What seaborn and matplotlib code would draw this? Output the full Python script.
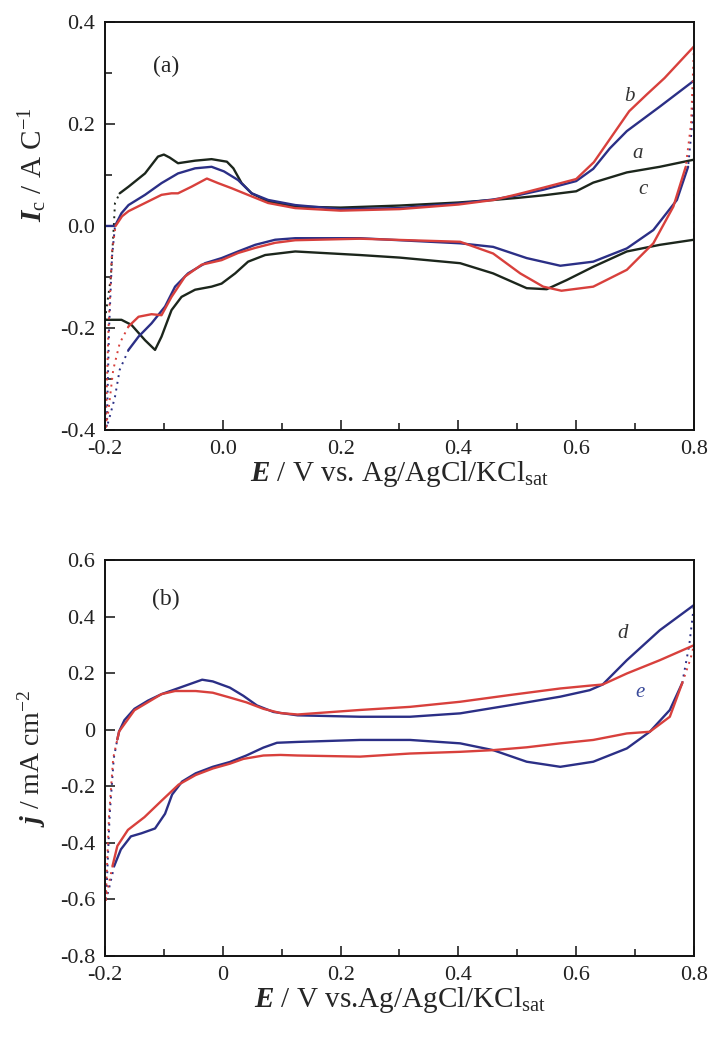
import numpy as np
import pandas as pd
import matplotlib
matplotlib.use("Agg")
import matplotlib.pyplot as plt
from matplotlib.ticker import MultipleLocator, FixedLocator, FixedFormatter
import seaborn as sns

# ---------------- panel (a): specific current, A C^-1 ----------------
# curve a (blue)
a_an_E = [-0.2, -0.183, -0.172, -0.160, -0.132, -0.104, -0.076, -0.047, -0.019, 0.002, 0.026, 0.049, 0.077, 0.123,
          0.2, 0.3, 0.4, 0.46, 0.5, 0.544, 0.6, 0.629, 0.657, 0.686, 0.742, 0.8]
a_an_I = [0.0, 0.0, 0.025, 0.041, 0.061, 0.084, 0.103, 0.113, 0.116, 0.107, 0.090, 0.064, 0.051, 0.041,
          0.033, 0.035, 0.044, 0.052, 0.060, 0.071, 0.088, 0.112, 0.152, 0.186, 0.234, 0.285]
a_ca_E = [-0.160, -0.143, -0.121, -0.098, -0.081, -0.059, -0.030, -0.002, 0.026, 0.055, 0.089, 0.123,
          0.233, 0.403, 0.459, 0.516, 0.573, 0.629, 0.686, 0.731, 0.771, 0.790]
a_ca_I = [-0.243, -0.217, -0.191, -0.158, -0.119, -0.093, -0.073, -0.063, -0.050, -0.037, -0.027, -0.024,
          -0.024, -0.034, -0.041, -0.063, -0.078, -0.070, -0.044, -0.008, 0.051, 0.116]
a_left_E = [-0.160, -0.175, -0.183, -0.191, -0.197, -0.193, -0.188, -0.183]
a_left_I = [-0.243, -0.282, -0.335, -0.370, -0.395, -0.200, -0.060, 0.0]
a_right_E = [0.8, 0.797, 0.790]
a_right_I = [0.285, 0.200, 0.116]

# curve b (red)
b_an_E = [-0.182, -0.171, -0.160, -0.132, -0.104, -0.087, -0.076, -0.053, -0.027, -0.008, 0.015, 0.049, 0.077, 0.123,
          0.2, 0.3, 0.4, 0.46, 0.5, 0.544, 0.6, 0.63, 0.66, 0.69, 0.72, 0.75, 0.8]
b_an_I = [0.0, 0.019, 0.029, 0.045, 0.061, 0.064, 0.064, 0.077, 0.093, 0.084, 0.074, 0.058, 0.045, 0.035,
          0.030, 0.033, 0.042, 0.051, 0.062, 0.075, 0.092, 0.125, 0.175, 0.225, 0.258, 0.290, 0.352]
b_ca_E = [-0.160, -0.143, -0.121, -0.104, -0.087, -0.064, -0.036, -0.002, 0.026, 0.055, 0.089, 0.123,
          0.233, 0.403, 0.459, 0.505, 0.544, 0.575, 0.629, 0.686, 0.731, 0.765, 0.786]
b_ca_I = [-0.197, -0.178, -0.173, -0.175, -0.139, -0.099, -0.076, -0.067, -0.053, -0.043, -0.033, -0.028,
          -0.025, -0.031, -0.054, -0.093, -0.119, -0.127, -0.119, -0.086, -0.034, 0.038, 0.116]
b_left_E = [-0.160, -0.175, -0.186, -0.194, -0.199, -0.194, -0.188, -0.182]
b_left_I = [-0.197, -0.230, -0.282, -0.361, -0.400, -0.200, -0.050, 0.0]
b_right_E = [0.8, 0.795, 0.786]
b_right_I = [0.352, 0.200, 0.116]

# curve c (black)
c_an_E = [-0.175, -0.160, -0.132, -0.110, -0.100, -0.090, -0.076, -0.047, -0.019, 0.007, 0.018, 0.032, 0.049, 0.077,
          0.123, 0.2, 0.3, 0.4, 0.46, 0.5, 0.544, 0.6, 0.629, 0.686, 0.742, 0.8]
c_an_I = [0.064, 0.077, 0.103, 0.136, 0.140, 0.134, 0.123, 0.128, 0.131, 0.126, 0.113, 0.084, 0.064, 0.048,
          0.038, 0.036, 0.040, 0.046, 0.051, 0.055, 0.060, 0.068, 0.085, 0.105, 0.116, 0.130]
c_ca_E = [-0.200, -0.186, -0.172, -0.155, -0.132, -0.115, -0.104, -0.087, -0.070, -0.047, -0.019, -0.002, 0.021,
          0.043, 0.072, 0.123, 0.233, 0.3, 0.403, 0.459, 0.516, 0.550, 0.584, 0.629, 0.686, 0.742, 0.8]
c_ca_I = [-0.184, -0.184, -0.184, -0.194, -0.224, -0.243, -0.217, -0.165, -0.139, -0.125, -0.119, -0.113, -0.093,
          -0.070, -0.057, -0.050, -0.057, -0.062, -0.073, -0.093, -0.122, -0.124, -0.106, -0.080, -0.050, -0.037, -0.027]
c_left_E = [-0.200, -0.190, -0.185, -0.183, -0.175]
c_left_I = [-0.184, -0.100, 0.000, 0.045, 0.064]
c_right_E = [0.8, 0.8]
c_right_I = [0.130, -0.027]

# ---------------- panel (b): current density, mA cm^-2 ----------------
# curve d (blue)
d_an_E = [-0.179, -0.176, -0.167, -0.150, -0.127, -0.104, -0.081, -0.058, -0.035, -0.017, 0.012, 0.035, 0.058, 0.086,
          0.127, 0.233, 0.318, 0.403, 0.488, 0.573, 0.623, 0.645, 0.686, 0.742, 0.8]
d_an_j = [-0.034, -0.006, 0.034, 0.074, 0.103, 0.126, 0.143, 0.160, 0.177, 0.171, 0.149, 0.120, 0.086, 0.063,
          0.051, 0.046, 0.046, 0.058, 0.087, 0.117, 0.140, 0.160, 0.246, 0.352, 0.441]
d_ca_E = [-0.184, -0.173, -0.156, -0.138, -0.115, -0.098, -0.086, -0.069, -0.046, -0.017, 0.012, 0.040, 0.069,
          0.092, 0.127, 0.233, 0.318, 0.403, 0.459, 0.516, 0.573, 0.629, 0.686, 0.725, 0.759, 0.780]
d_ca_j = [-0.480, -0.423, -0.377, -0.366, -0.349, -0.297, -0.229, -0.183, -0.154, -0.131, -0.114, -0.091, -0.063,
          -0.046, -0.043, -0.036, -0.036, -0.048, -0.072, -0.113, -0.131, -0.113, -0.066, -0.007, 0.070, 0.165]
d_left_E = [-0.184, -0.193, -0.198, -0.192, -0.185, -0.179]
d_left_j = [-0.480, -0.560, -0.600, -0.300, -0.100, -0.034]
d_right_E = [0.780, 0.792, 0.8]
d_right_j = [0.165, 0.300, 0.441]

# curve e (red)
e_an_E = [-0.179, -0.176, -0.150, -0.104, -0.081, -0.046, -0.017, 0.012, 0.040, 0.069, 0.098, 0.127,
          0.233, 0.318, 0.403, 0.488, 0.573, 0.623, 0.645, 0.686, 0.742, 0.8]
e_an_j = [-0.034, -0.006, 0.069, 0.126, 0.137, 0.137, 0.131, 0.114, 0.097, 0.074, 0.059, 0.054,
          0.070, 0.081, 0.099, 0.123, 0.146, 0.156, 0.160, 0.199, 0.246, 0.299]
e_ca_E = [-0.187, -0.179, -0.161, -0.133, -0.104, -0.075, -0.046, -0.017, 0.012, 0.035, 0.069, 0.098, 0.127,
          0.233, 0.318, 0.403, 0.459, 0.516, 0.573, 0.629, 0.686, 0.725, 0.759, 0.780]
e_ca_j = [-0.480, -0.411, -0.354, -0.309, -0.251, -0.194, -0.160, -0.137, -0.120, -0.103, -0.091, -0.089, -0.091,
          -0.095, -0.084, -0.078, -0.072, -0.062, -0.048, -0.036, -0.013, -0.007, 0.046, 0.165]
e_left_E = [-0.187, -0.195, -0.199, -0.193, -0.186, -0.179]
e_left_j = [-0.480, -0.560, -0.610, -0.300, -0.100, -0.034]
e_right_E = [0.780, 0.794, 0.8]
e_right_j = [0.165, 0.250, 0.299]

# axis ticks
xticks = [-0.2, 0.0, 0.2, 0.4, 0.6, 0.8]
xlabels_a = ["-0.2", "0.0", "0.2", "0.4", "0.6", "0.8"]
xlabels_b = ["-0.2", "0", "0.2", "0.4", "0.6", "0.8"]
yticks_a = [-0.4, -0.2, 0.0, 0.2, 0.4]
ylabels_a = ["-0.4", "-0.2", "0.0", "0.2", "0.4"]
yticks_b = [-0.8, -0.6, -0.4, -0.2, 0.0, 0.2, 0.4, 0.6]
ylabels_b = ["-0.8", "-0.6", "-0.4", "-0.2", "0", "0.2", "0.4", "0.6"]

BLUE = "#2b2f86"
RED = "#d8403c"
BLACK = "#1c261c"

sns.set_theme(style="ticks")
plt.rcParams["font.family"] = ["Liberation Serif", "DejaVu Serif"]
plt.rcParams["mathtext.fontset"] = "custom"
plt.rcParams["mathtext.rm"] = "Liberation Serif"
plt.rcParams["mathtext.it"] = "Liberation Serif:italic"
plt.rcParams["mathtext.bf"] = "Liberation Serif:bold"
plt.rcParams["mathtext.bfit"] = "Liberation Serif:italic:bold"

fig = plt.figure(figsize=(7.17, 10.5), dpi=100)
ax1 = fig.add_axes([0.1464, 0.5905, 0.8215, 0.3886])
ax2 = fig.add_axes([0.1464, 0.0895, 0.8215, 0.3771])

SOLID = dict(linewidth=1.7, estimator=None, sort=False, legend=False)
DOTTED = dict(linewidth=1.4, estimator=None, sort=False, legend=False, linestyle=(0, (1, 2.5)))


def draw(ax, color, an, ca, left, right):
    for (xs, ys) in (an, ca):
        sns.lineplot(x=xs, y=ys, color=color, ax=ax, solid_joinstyle="round", **SOLID)
    for (xs, ys) in (left, right):
        sns.lineplot(x=xs, y=ys, color=color, ax=ax, **DOTTED)


draw(ax1, BLACK, (c_an_E, c_an_I), (c_ca_E, c_ca_I), (c_left_E, c_left_I), (c_right_E, c_right_I))
draw(ax1, BLUE, (a_an_E, a_an_I), (a_ca_E, a_ca_I), (a_left_E, a_left_I), (a_right_E, a_right_I))
draw(ax1, RED, (b_an_E, b_an_I), (b_ca_E, b_ca_I), (b_left_E, b_left_I), (b_right_E, b_right_I))

draw(ax2, BLUE, (d_an_E, d_an_j), (d_ca_E, d_ca_j), (d_left_E, d_left_j), (d_right_E, d_right_j))
draw(ax2, RED, (e_an_E, e_an_j), (e_ca_E, e_ca_j), (e_left_E, e_left_j), (e_right_E, e_right_j))

for ax, yt, yl, xl, ylim in ((ax1, yticks_a, ylabels_a, xlabels_a, (-0.4, 0.4)),
                             (ax2, yticks_b, ylabels_b, xlabels_b, (-0.8, 0.6))):
    ax.set_xlim(-0.2, 0.8)
    ax.set_ylim(*ylim)
    ax.xaxis.set_major_locator(FixedLocator(xticks))
    ax.xaxis.set_major_formatter(FixedFormatter(xl))
    ax.xaxis.set_minor_locator(MultipleLocator(0.1))
    ax.yaxis.set_major_locator(FixedLocator(yt))
    ax.yaxis.set_major_formatter(FixedFormatter(yl))
    ax.tick_params(which="both", direction="in", top=False, right=False, labelsize=16, colors="#222222")
    ax.tick_params(which="major", length=7, width=1.2, pad=7)
    ax.tick_params(which="minor", length=5, width=1.2)
    for s in ax.spines.values():
        s.set_linewidth(1.4)
        s.set_color("#111111")
        s.set_visible(True)

ax1.yaxis.set_minor_locator(MultipleLocator(0.1))

ax1.set_xlabel(r"$\mathbfit{E}$ / V vs. Ag/AgCl/KCl$_{\rm sat}$", fontsize=21, labelpad=0)
ax2.set_xlabel(r"$\mathbfit{E}$ / V vs.Ag/AgCl/KCl$_{\rm sat}$", fontsize=21, labelpad=0)
ax1.set_ylabel(r"$\mathbfit{I}_{\rm c}$ / A C$^{-1}$", fontsize=21)
ax2.set_ylabel(r"$\mathbfit{j}$ / mA cm$^{-2}$", fontsize=20)
ax1.yaxis.set_label_coords(-0.095, 0.65)
ax2.yaxis.set_label_coords(-0.097, 0.5)

ax1.text(-0.096, 0.312, "(a)", fontsize=17, ha="center", va="center")
ax2.text(-0.096, 0.46, "(b)", fontsize=17, ha="center", va="center")
ax1.text(0.691, 0.253, "b", fontsize=15, style="italic", ha="center", va="center", color="#333333")
ax1.text(0.705, 0.143, "a", fontsize=15, style="italic", ha="center", va="center", color="#333333")
ax1.text(0.714, 0.071, "c", fontsize=15, style="italic", ha="center", va="center", color="#333333")
ax2.text(0.679, 0.342, "d", fontsize=15, style="italic", ha="center", va="center", color="#333333")
ax2.text(0.708, 0.13, "e", fontsize=15, style="italic", ha="center", va="center", color="#3a4a9a")

fig.savefig("out.png", dpi=100)
